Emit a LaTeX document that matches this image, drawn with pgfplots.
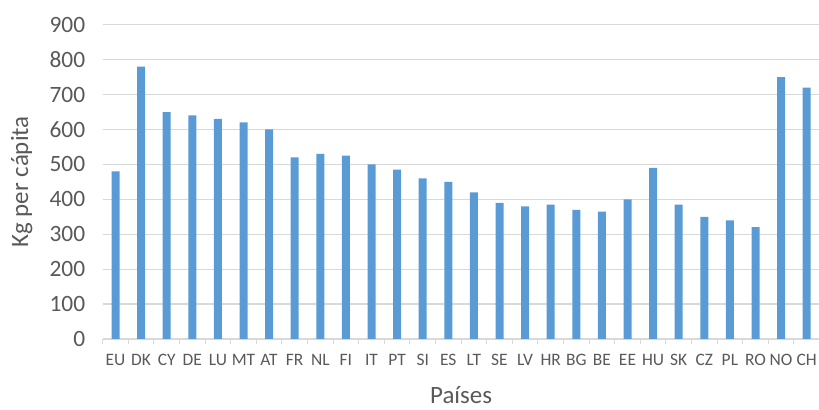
\documentclass[border=0pt]{standalone}
\usepackage{pgfplots}
\pgfplotsset{compat=1.18}
\usepackage{fontspec}
\setmainfont{Carlito}
\definecolor{barblue}{HTML}{5B9BD5}
\definecolor{txtgray}{HTML}{595959}
\definecolor{gridgray}{HTML}{D9D9D9}
\pgfplotstableread{
x val
0 480
1 780
2 650
3 640
4 630
5 620
6 600
7 520
8 530
9 525
10 500
11 485
12 460
13 450
14 420
15 390
16 380
17 385
18 370
19 365
20 400
21 490
22 385
23 350
24 340
25 320
26 750
27 720
}\datatable
\begin{document}
\begin{tikzpicture}
\useasboundingbox (0,0) rectangle (819bp,410bp);
\begin{axis}[
  at={(102.7bp,71bp)}, anchor=south west,
  scale only axis, width=716.8bp, height=314.3bp,
  xmin=-0.5, xmax=27.5, ymin=0, ymax=900,
  ytick={0,100,...,900},
  xtick={0,...,27},
  xticklabels={EU,DK,CY,DE,LU,MT,AT,FR,NL,FI,IT,PT,SI,ES,LT,SE,LV,HR,BG,BE,EE,HU,SK,CZ,PL,RO,NO,CH},
  extra x ticks={-0.5,0.5,...,27.5},
  extra x tick labels={},
  extra x tick style={major tick length=5bp, tick style={draw=gridgray, line width=1.1bp}, grid=none},
  major tick length=0pt,
  tick align=outside,
  xtick pos=bottom, ytick pos=left,
  axis x line*=bottom,
  axis y line*=left,
  x axis line style={draw=gridgray, line width=1.2bp, -},
  y axis line style={draw=none},
  ymajorgrids,
  grid style={draw=gridgray, line width=1.2bp},
  /pgf/number format/assume math mode=true,
  ticklabel style={text=txtgray},
  yticklabel style={font=\fontsize{23.5}{26}\selectfont, anchor=east, xshift=-14bp},
  xticklabel style={font=\fontsize{17.5}{20}\selectfont, anchor=north, yshift=-12bp},
  ylabel={Kg per cápita},
  xlabel={Países},
  label style={text=txtgray, font=\fontsize{25}{28}\selectfont},
  ylabel style={at={([xshift=-81bp]axis description cs:0,0.5)}, anchor=center},
  xlabel style={at={([yshift=-56bp]axis description cs:0.5,0)}, anchor=center},
  ybar, bar width=8bp,
  clip=false,
]
\addplot[fill=barblue, draw=none] table[x=x,y=val] {\datatable};
\end{axis}
\end{tikzpicture}
\end{document}
